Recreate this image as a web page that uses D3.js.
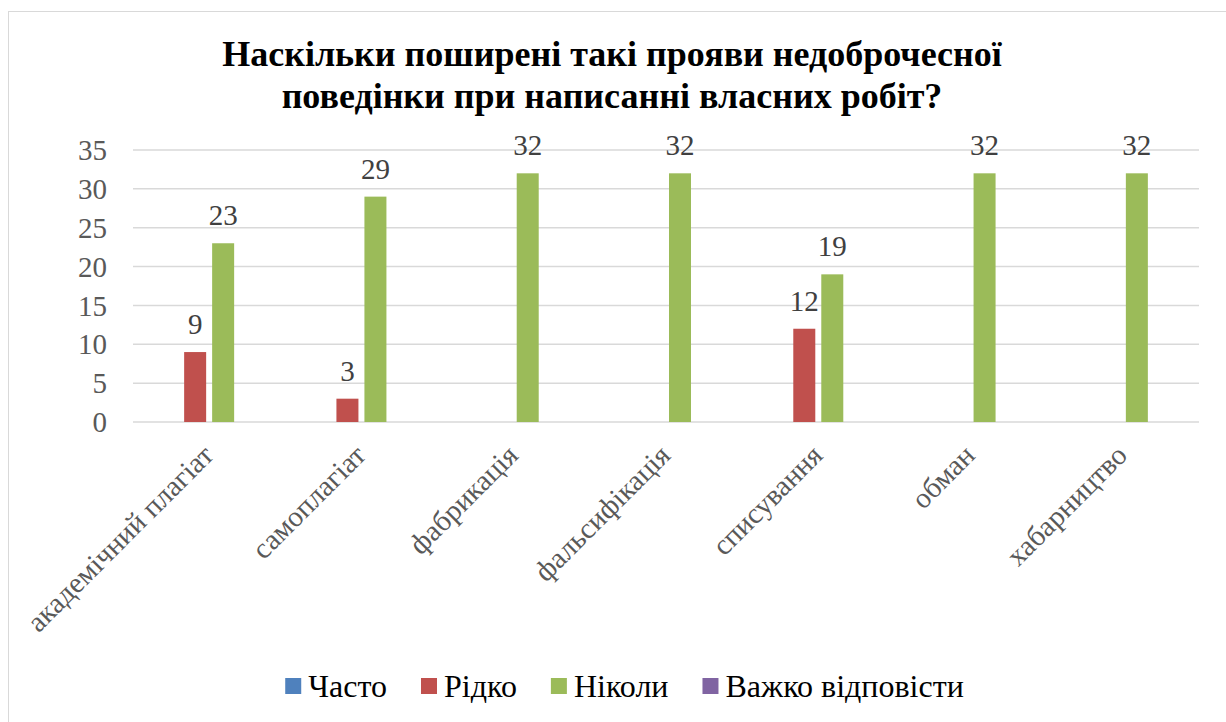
<!DOCTYPE html>
<meta charset="utf-8">
<script src="https://d3js.org/d3.v7.js"></script>
<style>
  body { margin: 0; background: #fff; }
</style>
<div id="my_dataviz"></div>
<script>

// data
const categories = ["академічний плагіат", "самоплагіат", "фабрикація", "фальсифікація", "списування", "обман", "хабарництво"];
const seriesNames = ["Часто", "Рідко", "Ніколи", "Важко відповісти"];
const often = [0, 0, 0, 0, 0, 0, 0];
const rarely = [9, 3, 0, 0, 12, 0, 0];
const never = [23, 29, 32, 32, 19, 32, 32];
const hard = [0, 0, 0, 0, 0, 0, 0];
const yTicks = [0, 5, 10, 15, 20, 25, 30, 35];
const titleLines = ["Наскільки поширені такі прояви недоброчесної", "поведінки при написанні власних робіт?"];

const colors = ["#4f81bd", "#c0504d", "#9bbb59", "#8064a2"];
const seriesValues = [often, rarely, never, hard];
const FONT = "'Liberation Serif', 'Times New Roman', 'DejaVu Serif', serif";

const W = 1226, H = 722;
const margin = {top: 150, right: 27, bottom: 300, left: 133};
const width = W - margin.left - margin.right,
  height = 422 - margin.top;

const svg = d3.select("#my_dataviz")
  .append("svg")
    .attr("width", W)
    .attr("height", H)
    .attr("font-family", FONT);

// chart border
svg.append("rect")
  .attr("x", 8.5).attr("y", 11.5)
  .attr("width", W + 20).attr("height", H + 20)
  .attr("fill", "none")
  .attr("stroke", "#d9d9d9");

// title
svg.append("g").selectAll("text")
  .data(titleLines)
  .join("text")
    .attr("x", 612)
    .attr("y", (d, i) => 66 + i * 42)
    .attr("text-anchor", "middle")
    .style("font-size", "36px")
    .style("font-weight", "bold")
    .style("fill", "#000")
    .text(d => d);

const g = svg.append("g")
  .attr("transform", `translate(${margin.left}, ${margin.top})`);

const y = d3.scaleLinear().domain([0, 35]).range([height, 0]);
const x0 = d3.scaleBand().domain(categories).range([0, width])
  .paddingInner(0.304).paddingOuter(0.152);
const x1 = d3.scaleBand().domain(seriesNames).range([0, x0.bandwidth()])
  .paddingInner(0.214).paddingOuter(0);

// gridlines
g.append("g").selectAll("line")
  .data(yTicks)
  .join("line")
    .attr("x1", 0).attr("x2", width)
    .attr("y1", d => y(d)).attr("y2", d => y(d))
    .attr("stroke", "#d9d9d9")
    .attr("stroke-width", 1.5);

// y axis labels
g.append("g").selectAll("text")
  .data(yTicks)
  .join("text")
    .attr("x", -26)
    .attr("y", d => y(d))
    .attr("dy", "0.35em")
    .attr("text-anchor", "end")
    .style("font-size", "29px")
    .style("fill", "#595959")
    .text(d => d);

// bars
const rows = [];
categories.forEach((c, i) => {
  seriesNames.forEach((s, j) => {
    rows.push({cat: c, series: s, value: seriesValues[j][i], color: colors[j]});
  });
});

const cat = g.append("g").selectAll("g")
  .data(rows)
  .join("g")
    .attr("transform", d => `translate(${x0(d.cat) + x1(d.series)}, 0)`);

cat.append("rect")
  .attr("x", 0)
  .attr("y", d => y(d.value))
  .attr("width", x1.bandwidth())
  .attr("height", d => height - y(d.value))
  .attr("fill", d => d.color);

// value labels (only for non-zero bars)
cat.filter(d => d.value > 0).append("text")
  .attr("x", x1.bandwidth() / 2)
  .attr("y", d => y(d.value) - 18)
  .attr("text-anchor", "middle")
  .style("font-size", "29px")
  .style("fill", "#404040")
  .text(d => d.value);

// category labels, rotated
g.append("g").selectAll("text")
  .data(categories)
  .join("text")
    .attr("transform", d => `translate(${x0(d) + x0.bandwidth() / 2 + 6}, ${height + 35}) rotate(-45)`)
    .attr("text-anchor", "end")
    .style("font-size", "29px")
    .style("fill", "#595959")
    .text(d => d);

// legend
const legend = svg.append("g").attr("transform", "translate(0, 697)");
const items = legend.selectAll("g")
  .data(seriesNames)
  .join("g");
items.append("rect")
  .attr("y", -19)
  .attr("width", 16).attr("height", 16)
  .attr("fill", (d, i) => colors[i]);
items.append("text")
  .attr("x", 23)
  .attr("y", 0)
  .style("font-size", "32px")
  .style("fill", "#000")
  .text(d => d);

// place legend items one after another, centred
let pos = 0;
const offsets = [];
items.each(function() {
  offsets.push(pos);
  pos += 23 + this.querySelector("text").getComputedTextLength() + 34;
});
const total = pos - 34;
const start = 624.5 - total / 2;
items.attr("transform", (d, i) => `translate(${start + offsets[i]}, 0)`);

</script>
